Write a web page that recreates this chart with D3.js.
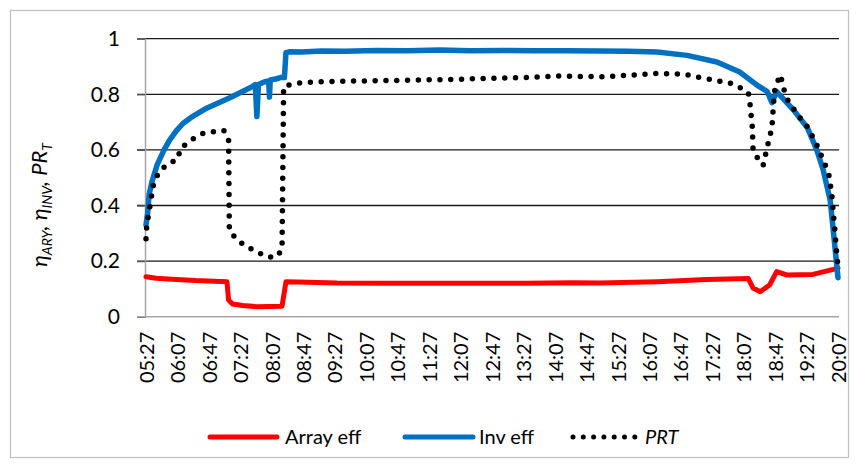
<!DOCTYPE html>
<html>
<head>
<meta charset="utf-8">
<script src="https://cdn.jsdelivr.net/npm/d3@7"></script>
<style>
  body { margin: 0; background: #fff; }
  text { font-family: Lato, "Open Sans", sans-serif; fill: #000; }
</style>
</head>
<body>
<svg id="chart" width="857" height="466"></svg>
<script>
// Category labels along the time axis (every 40 minutes)
const timeLabels = ["05:27","06:07","06:47","07:27","08:07","08:47","09:27","10:07","10:47","11:27",
  "12:07","12:47","13:27","14:07","14:47","15:27","16:07","16:47","17:27","18:07","18:47","19:27","20:07"];
const yTicks = [0, 0.2, 0.4, 0.6, 0.8, 1];

// Array efficiency
const arrayTime = ["05:27","05:40","06:00","06:30","07:10","07:12","07:17","07:30","07:48","08:20","08:23","08:25",
  "08:40","09:30","10:30","12:00","13:30","14:30","15:04","16:17","17:20","18:13","18:19","18:28","18:40","18:49",
  "19:02","19:35","20:01","20:07"];
const arrayEff = [0.144,0.138,0.135,0.130,0.126,0.060,0.046,0.040,0.036,0.038,0.090,0.126,
  0.125,0.121,0.120,0.120,0.120,0.122,0.121,0.126,0.134,0.137,0.103,0.090,0.114,0.162,
  0.150,0.152,0.170,0.175];

// Inverter efficiency
const invTime = ["05:27","05:29","05:31","05:35","05:41","05:50","05:57","06:06","06:14","06:26","06:44","07:13",
  "07:42","07:46","07:48","07:50","07:58","08:03","08:04","08:05","08:12","08:18","08:23","08:25","08:30","08:45",
  "09:10","09:40","10:20","11:00","11:40","12:20","13:00","13:40","14:20","15:04","15:40","16:17","16:55","17:33",
  "18:02","18:24","18:37","18:43","18:49","19:10","19:28","19:40","19:48","19:57","20:01","20:07"];
const invEff = [0.33,0.37,0.44,0.49,0.545,0.60,0.635,0.67,0.695,0.72,0.75,0.787,
  0.827,0.835,0.72,0.835,0.845,0.848,0.79,0.852,0.855,0.86,0.86,0.950,0.953,0.952,
  0.956,0.955,0.958,0.957,0.959,0.957,0.958,0.957,0.957,0.956,0.955,0.952,0.940,0.916,
  0.880,0.833,0.810,0.770,0.810,0.745,0.680,0.600,0.530,0.420,0.310,0.140];

// Temperature-corrected performance ratio
const prtTime = ["05:27","05:28","05:31","05:36","05:43","05:55","06:07","06:11","06:24","06:40","07:06","07:12",
  "07:13","07:23","07:35","07:48","08:00","08:12","08:20","08:22","08:30","08:39","09:04","10:00","10:46","11:50",
  "12:53","13:30","14:09","15:04","15:47","16:17","16:50","17:08","17:28","17:50","18:03","18:13","18:15","18:18",
  "18:19","18:24","18:25","18:32","18:37","18:43","18:45","18:47","18:54","18:57","19:03","19:16","19:28","19:39",
  "19:48","19:55","19:59","20:01","20:03","20:05","20:07"];
const prtVal = [0.28,0.33,0.38,0.47,0.52,0.55,0.565,0.605,0.635,0.66,0.67,0.635,
  0.31,0.276,0.252,0.234,0.216,0.214,0.24,0.827,0.835,0.84,0.845,0.848,0.85,0.853,
  0.858,0.860,0.866,0.863,0.869,0.875,0.873,0.862,0.852,0.84,0.823,0.805,0.768,0.683,
  0.60,0.58,0.557,0.546,0.61,0.68,0.768,0.827,0.87,0.827,0.78,0.725,0.683,0.625,
  0.564,0.517,0.444,0.373,0.312,0.24,0.18];

const toMin = s => { const [h, m] = s.split(":").map(Number); return h * 60 + m; };

const svg = d3.select("#chart");

// chart frame
svg.append("rect").attr("x", 10.5).attr("y", 10.5).attr("width", 838).attr("height", 447)
  .attr("fill", "none").attr("stroke", "#bfbfbf").attr("stroke-width", 1.2);

const x = d3.scaleLinear().domain([toMin("05:27"), toMin("20:07")]).range([146, 838]);
const y = d3.scaleLinear().domain([0, 1]).range([316.7, 38.7]);

// horizontal gridlines, extending left as tick marks
svg.append("g").selectAll("line").data(yTicks.filter(d => d > 0)).join("line")
  .attr("x1", 137).attr("x2", 839)
  .attr("y1", d => y(d)).attr("y2", d => y(d))
  .attr("stroke", "#1a1a1a").attr("stroke-width", 1.3);

// y axis
const yAxis = svg.append("g").attr("transform", "translate(145,0)")
  .call(d3.axisLeft(y).tickValues(yTicks).tickSize(8).tickPadding(17)
    .tickFormat(d => d === 0 ? "0" : d === 1 ? "1" : d3.format(".1f")(d)));
yAxis.select(".domain").attr("stroke", "#a6a6a6").attr("stroke-width", 1.5);
yAxis.selectAll(".tick line").attr("stroke", "#595959").attr("stroke-width", 1.3);
yAxis.selectAll(".tick text").attr("font-size", 21).attr("font-family", "Lato");

// x axis
const xAxis = svg.append("g").attr("transform", `translate(0,${y(0)})`)
  .call(d3.axisBottom(x).tickValues(timeLabels.map(toMin)).tickSize(0)
    .tickFormat((d, i) => timeLabels[i]));
xAxis.select(".domain").attr("d", "M137,0H839").attr("stroke", "#a6a6a6").attr("stroke-width", 1.5);
xAxis.selectAll(".tick text")
  .attr("font-size", 20).attr("font-family", "Lato")
  .attr("transform", "rotate(-90)")
  .attr("text-anchor", "end")
  .attr("x", -15).attr("y", 0).attr("dy", "0.36em");

// series
const line = d3.line().x(d => x(d[0])).y(d => y(d[1]));
const pairs = (t, v) => t.map((s, i) => [toMin(s), v[i]]);

svg.append("path").datum(pairs(arrayTime, arrayEff))
  .attr("d", line).attr("fill", "none").attr("stroke", "#ff0000")
  .attr("stroke-width", 5).attr("stroke-linejoin", "round").attr("stroke-linecap", "round");

svg.append("path").datum(pairs(invTime, invEff))
  .attr("d", line).attr("fill", "none").attr("stroke", "#0070c0")
  .attr("stroke-width", 5.5).attr("stroke-linejoin", "round").attr("stroke-linecap", "round");

svg.append("path").datum(pairs(prtTime, prtVal))
  .attr("d", line).attr("fill", "none").attr("stroke", "#000")
  .attr("stroke-width", 5.5).attr("stroke-dasharray", "0 10.8").attr("stroke-linecap", "round");

// y axis title
const title = svg.append("text").attr("transform", "translate(47,205) rotate(-90)")
  .attr("text-anchor", "middle").attr("font-size", 22).attr("font-style", "italic");
[["η", 0], ["ARY", 1], [", η", 0], ["INV", 1], [", PR", 0], ["T", 1]].forEach(([s, sub], i, arr) => {
  const prevSub = i > 0 ? arr[i - 1][1] : 0;
  title.append("tspan").text(s)
    .attr("font-size", sub ? 14 : 22)
    .attr("dy", sub ? 5 : (prevSub ? -5 : 0));
});

// legend
const legend = svg.append("g");
const legY = 437;
legend.append("line").attr("x1", 210).attr("x2", 277).attr("y1", legY).attr("y2", legY)
  .attr("stroke", "#ff0000").attr("stroke-width", 5).attr("stroke-linecap", "round");
legend.append("text").attr("x", 285).attr("y", legY).attr("dy", "0.36em").attr("font-size", 20).text("Array eff");
legend.append("line").attr("x1", 405).attr("x2", 473).attr("y1", legY).attr("y2", legY)
  .attr("stroke", "#0070c0").attr("stroke-width", 5).attr("stroke-linecap", "round");
legend.append("text").attr("x", 479).attr("y", legY).attr("dy", "0.36em").attr("font-size", 20).text("Inv eff");
legend.append("line").attr("x1", 573).attr("x2", 635).attr("y1", legY).attr("y2", legY)
  .attr("stroke", "#000").attr("stroke-width", 5).attr("stroke-dasharray", "0 10.3").attr("stroke-linecap", "round");
legend.append("text").attr("x", 645).attr("y", legY).attr("dy", "0.36em").attr("font-size", 20)
  .attr("font-style", "italic").text("PRT");
</script>
</body>
</html>
